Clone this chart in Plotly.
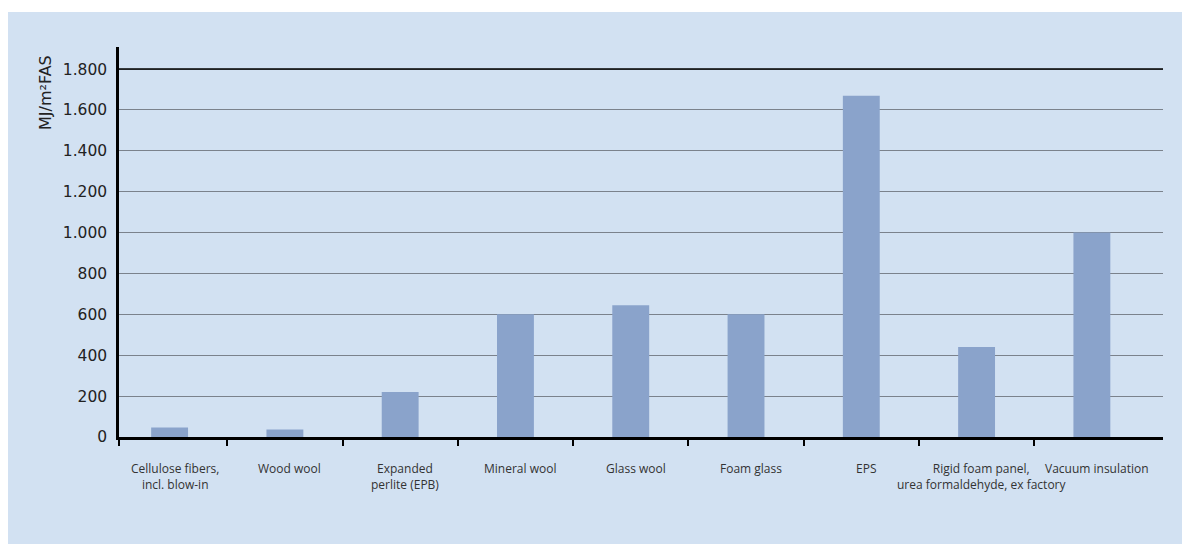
import plotly.graph_objects as go

categories = [
    "Cellulose fibers,<br>incl. blow-in",
    "Wood wool",
    "Expanded<br>perlite (EPB)",
    "Mineral wool",
    "Glass wool",
    "Foam glass",
    "EPS",
    "Rigid foam panel,<br>urea formaldehyde, ex factory",
    "Vacuum insulation",
]
values = [47, 37, 220, 600, 645, 600, 1670, 440, 1000]
y_ticks = [0, 200, 400, 600, 800, 1000, 1200, 1400, 1600, 1800]
y_title = "MJ/m²FAS"

BG = "#D2E1F2"
BAR = "#8AA3CB"
FONT = "Open Sans"
TFONT = "DejaVu Sans"

L, R, T, B = 111, 35, 39, 115
W, H = 1190, 544
PW = W - L - R
PH = H - T - B

n = len(categories)
xpos = list(range(n))
x_min, x_max = -0.439, 8.617
boundaries = [x_min] + [i + 0.5 for i in range(n - 1)]

fig = go.Figure()
fig.add_trace(go.Bar(
    x=xpos, y=values, width=0.32,
    marker=dict(color=BAR, line=dict(width=0)),
    hoverinfo="skip",
))

# background panel
fig.add_shape(type="rect", xref="paper", yref="paper",
              x0=-L / PW, x1=1.2, y0=-0.4, y1=(PH + T - 4) / PH,
              fillcolor=BG, line=dict(width=0), layer="below")

# top gridline black
fig.add_shape(type="line", xref="x", yref="y", x0=x_min, x1=x_max,
              y0=max(y_ticks), y1=max(y_ticks), line=dict(color="black", width=1.5))

for i, c in enumerate(categories):
    fig.add_annotation(x=i, y=0, xref="x", yref="y", text=c, showarrow=False,
                       yanchor="top", xanchor="center", yshift=-21, xshift=5,
                       font=dict(family=FONT, size=12, color="#333333"))

fig.add_annotation(x=-74 / PW, y=(PH + T - 85) / PH, xref="paper", yref="paper",
                   text=y_title, textangle=-90, showarrow=False,
                   xanchor="center", yanchor="middle",
                   font=dict(family=TFONT, size=16, color="#222222"))

fig.update_layout(
    width=W, height=H,
    margin=dict(l=L, r=R, t=T, b=B),
    paper_bgcolor="white", plot_bgcolor=BG,
    showlegend=False,
    xaxis=dict(range=[x_min, x_max], tickvals=boundaries, ticktext=[""] * len(boundaries),
               ticks="outside", ticklen=6, tickwidth=2, tickcolor="black",
               showline=True, linecolor="black", linewidth=2.5,
               showgrid=False, zeroline=False, showticklabels=False),
    yaxis=dict(range=[0, 1908], tickvals=y_ticks,
               ticktext=[f"{v:,}".replace(",", ".") for v in y_ticks],
               showline=True, linecolor="black", linewidth=2.5,
               showgrid=True, gridcolor="#7b828c", gridwidth=1,
               zeroline=False, ticks="", ticklabelstandoff=6,
               tickfont=dict(family=TFONT, size=15.5, color="#222222")),
)

fig.write_html("out.html")
